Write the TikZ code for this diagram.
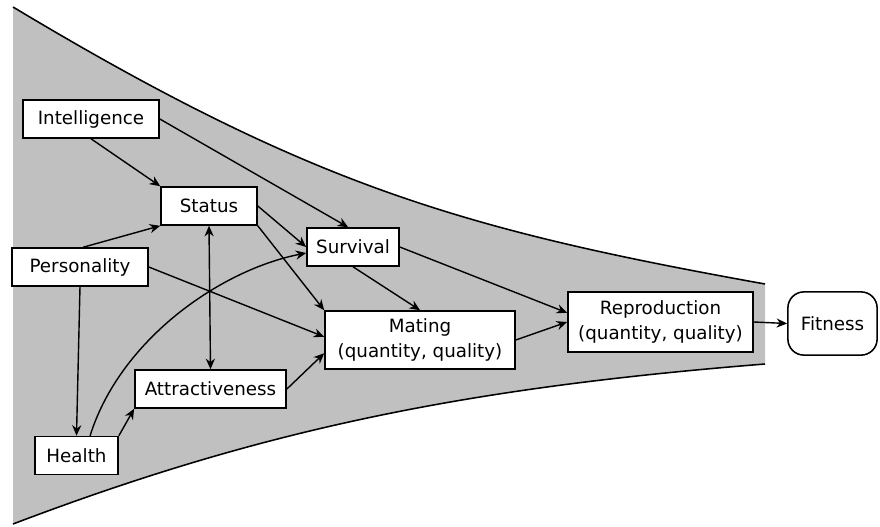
\documentclass[tikz,border=0pt]{standalone}
\usepackage{fontspec}
\setmainfont{DejaVu Sans}
\usetikzlibrary{arrows.meta}
\definecolor{funnelgray}{RGB}{192,192,192}

\begin{document}
\begin{tikzpicture}[
    x=0.025cm, y=-0.025cm,
    vbox/.style={rectangle, draw=black, fill=white, line width=1.1pt, align=center, inner sep=2pt, minimum height=0.95cm, font=\fontsize{13pt}{17.5pt}\selectfont},
    arr/.style={-{Stealth[length=7.5pt, width=6.5pt]}, line width=1pt, color=black},
    rim/.style={line width=1.1pt, color=black}
]
\useasboundingbox (0,0) rectangle (880,526);

% funnel
\fill[funnelgray] (13,7) .. controls (313,187) and (465,230) .. (765,284)
    -- (765,364) .. controls (465,388) and (263,429) .. (13,524) -- cycle;
\draw[rim] (13,7) .. controls (313,187) and (465,230) .. (765,284);
\draw[rim] (765,364) .. controls (465,388) and (263,429) .. (13,524);

\node[vbox, minimum width=3.4cm] (intel) at (91,119) {Intelligence};
\node[vbox, minimum width=2.4cm] (status) at (209,206) {Status};
\node[vbox, minimum width=2.3cm] (survival) at (353,247) {Survival};
\node[vbox, minimum width=3.4cm] (pers) at (80,267) {Personality};
\node[vbox, minimum width=3.78cm] (attract) at (210.5,389) {Attractiveness};
\node[vbox, minimum width=2.08cm] (health) at (76.5,455.5) {Health};
\node[vbox, minimum width=4.75cm, minimum height=1.45cm] (mating) at (420,340) {Mating\\(quantity, quality)};
\node[vbox, minimum width=4.63cm, minimum height=1.5cm] (repro) at (660.5,322) {Reproduction\\(quantity, quality)};
\node[vbox, rounded corners=0.4cm, minimum width=2.23cm, minimum height=1.58cm] (fitness) at (832.5,323.5) {Fitness};

\draw[arr] (intel.south) -- (status.north west);
\draw[arr] (intel.east) -- ([xshift=-0.12cm]survival.north);
\draw[arr] ([xshift=0.08cm]pers.north) -- (status.south west);
\draw[arr] (pers.east) -- ([yshift=0.08cm]mating.west);
\draw[arr] (pers.south) -- (health.north);
\draw[arr] (health.north east) -- (attract.south west);
\draw[arr] ([xshift=0.34cm]health.north) .. controls (120,340) and (220,270) .. ([yshift=-0.15cm]survival.west);
\draw[arr] (status.east) -- (survival.west);
\draw[arr] (status.south east) -- (mating.north west);
\draw[arr, {Stealth[length=7.5pt, width=6.5pt]}-{Stealth[length=7.5pt, width=6.5pt]}] (status.south) -- (attract.north);
\draw[arr] (attract.east) -- ([yshift=-0.33cm]mating.west);
\draw[arr] (survival.south) -- (mating.north);
\draw[arr] (survival.east) -- ([yshift=0.23cm]repro.west);
\draw[arr] (mating.east) -- (repro.west);
\draw[arr] (repro.east) -- (fitness.west);

\end{tikzpicture}
\end{document}
